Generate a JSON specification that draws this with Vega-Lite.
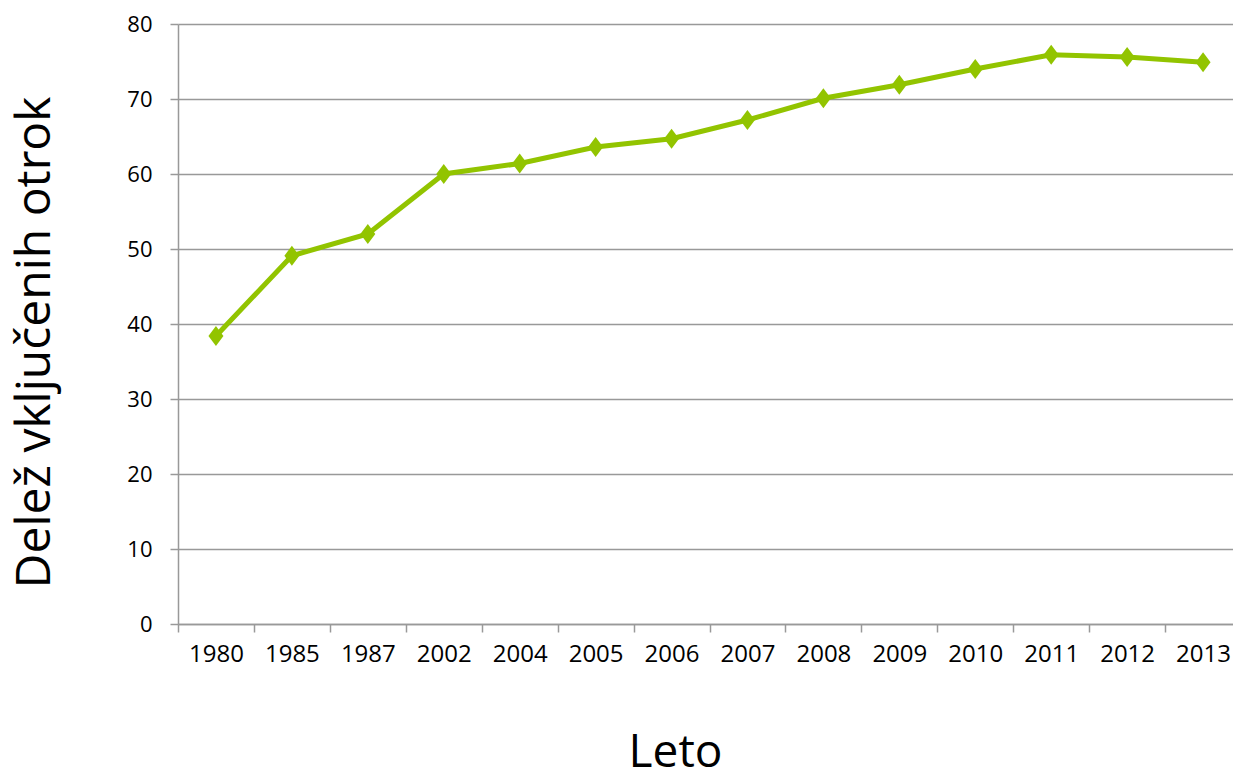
{
  "$schema": "https://vega.github.io/schema/vega-lite/v6.json",
  "autosize": "none",
  "width": 1063,
  "height": 600,
  "padding": {"left": 178, "top": 24, "right": 0, "bottom": 158},
  "background": "white",
  "config": {
    "view": {"stroke": null},
    "font": "Open Sans"
  },
  "data": {
    "values": [
      {"leto": "1980", "delez": 38.4},
      {"leto": "1985", "delez": 49.1},
      {"leto": "1987", "delez": 52.0},
      {"leto": "2002", "delez": 60.0},
      {"leto": "2004", "delez": 61.4},
      {"leto": "2005", "delez": 63.6},
      {"leto": "2006", "delez": 64.7},
      {"leto": "2007", "delez": 67.2},
      {"leto": "2008", "delez": 70.1},
      {"leto": "2009", "delez": 71.9},
      {"leto": "2010", "delez": 74.0},
      {"leto": "2011", "delez": 75.9},
      {"leto": "2012", "delez": 75.6},
      {"leto": "2013", "delez": 74.9}
    ]
  },
  "encoding": {
    "x": {
      "field": "leto",
      "type": "ordinal",
      "sort": null,
      "scale": {"type": "band", "paddingInner": 0, "paddingOuter": 0},
      "axis": {
        "title": "Leto",
        "titleFont": "Open Sans",
        "titleFontSize": 46,
        "titleFontWeight": "normal",
        "titleColor": "#000000",
        "titleX": 497,
        "titleY": 142,
        "titleAlign": "center",
        "titleBaseline": "alphabetic",
        "labelAngle": 0,
        "labelFont": "Open Sans",
        "labelFontSize": 24,
        "labelColor": "#000000",
        "labelPadding": 10,
        "tickBand": "extent",
        "tickSize": 8,
        "tickColor": "#999999",
        "tickWidth": 1.5,
        "domainColor": "#999999",
        "domainWidth": 1.5,
        "grid": false
      }
    },
    "y": {
      "field": "delez",
      "type": "quantitative",
      "scale": {"domain": [0, 80], "nice": false},
      "axis": {
        "title": "Delež vključenih otrok",
        "titleFont": "Open Sans",
        "titleFontSize": 48,
        "titleFontWeight": "normal",
        "titleColor": "#000000",
        "titleAngle": -90,
        "titleAlign": "center",
        "titleBaseline": "alphabetic",
        "titleX": -129,
        "titleY": 318,
        "values": [0, 10, 20, 30, 40, 50, 60, 70, 80],
        "labelFont": "Open Sans",
        "labelFontSize": 22,
        "labelColor": "#000000",
        "labelPadding": 18,
        "tickSize": 8,
        "tickColor": "#999999",
        "tickWidth": 1.5,
        "domainColor": "#999999",
        "domainWidth": 1.5,
        "grid": true,
        "gridColor": "#999999",
        "gridWidth": 1.5
      }
    }
  },
  "layer": [
    {
      "mark": {"type": "line", "color": "#92C400", "strokeWidth": 5}
    },
    {
      "mark": {
        "type": "point",
        "shape": "M0,-1.33L1,0L0,1.33L-1,0Z",
        "filled": true,
        "opacity": 1,
        "color": "#92C400",
        "size": 225
      }
    }
  ]
}
